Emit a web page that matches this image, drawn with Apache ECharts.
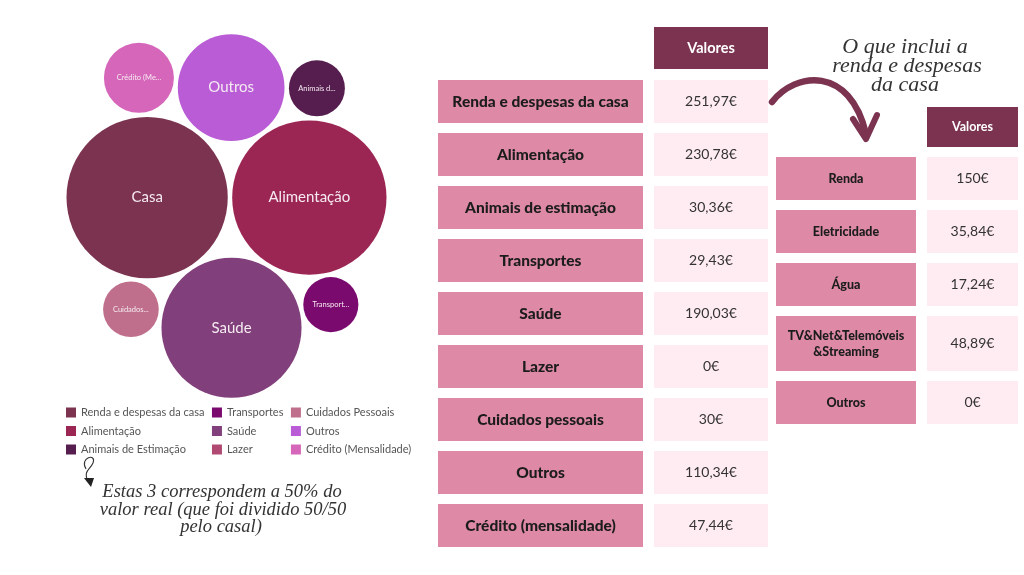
<!DOCTYPE html>
<html>
<head>
<meta charset="utf-8">
<script src="https://cdn.jsdelivr.net/npm/echarts@6/dist/echarts.min.js"></script>
<style>
html,body{margin:0;padding:0;background:#fff;}
#c{width:1024px;height:575px;}
</style>
</head>
<body>
<div id="c"></div>
<script>
// ---------------- DATA ----------------
const categories = ['Renda e despesas da casa','Alimentação','Animais de Estimação','Transportes','Saúde','Lazer','Cuidados Pessoais','Outros','Crédito (Mensalidade)'];
const bubbleLabels = ['Casa','Alimentação','Animais de Estimação','Transportes','Saúde','Lazer','Cuidados Pessoais','Outros','Crédito (Mensalidade)'];
const values = [251.97, 230.78, 30.36, 29.43, 190.03, 0, 30, 110.34, 47.44];
const tableLabels = ['Renda e despesas da casa','Alimentação','Animais de estimação','Transportes','Saúde','Lazer','Cuidados pessoais','Outros','Crédito (mensalidade)'];
const houseLabels = ['Renda','Eletricidade','Água','TV&Net&Telemóveis\n&Streaming','Outros'];
const houseValues = [150, 35.84, 17.24, 48.89, 0];
const headerText = 'Valores';

// ---------------- STYLE / LAYOUT ----------------
const colors = ['#7B3350','#9C2653','#561D4F','#7B0A6F','#813F7B','#B14A73','#BF6F8B','#B95CD6','#D566B9'];
const K = 5.08, PAD = 2.2;
// packing: [circle, tangent to a, tangent to b] (circle 0 at origin, circle 1 to its right)
const packRules = [[4,0,1],[7,1,0],[8,7,0],[2,1,7],[6,0,4],[3,4,1]];
const fmt = v => (Number.isInteger(v) ? String(v) : v.toFixed(2).replace('.', ',')) + '€';

const rad = values.map(v => K * Math.sqrt(v));
const R = i => rad[i] + PAD;
const pos = {};
pos[0] = [0, 0];
pos[1] = [R(0) + R(1), 0];
function tangent(a, b, c) {
  const A = pos[a], B = pos[b];
  const dx = B[0]-A[0], dy = B[1]-A[1];
  const d = Math.hypot(dx, dy), ux = dx/d, uy = dy/d;
  const da = R(a)+R(c), db = R(b)+R(c);
  const x = (da*da - db*db + d*d) / (2*d);
  const h = Math.sqrt(Math.max(0, da*da - x*x));
  return [A[0] + x*ux - h*uy, A[1] + x*uy + h*ux];
}
packRules.forEach(([c,a,b]) => { pos[c] = tangent(a,b,c); });
let minX=Infinity,maxX=-Infinity,minY=Infinity,maxY=-Infinity;
Object.keys(pos).forEach(k => {
  const i = +k, p = pos[i];
  minX = Math.min(minX, p[0]-rad[i]); maxX = Math.max(maxX, p[0]+rad[i]);
  minY = Math.min(minY, p[1]-rad[i]); maxY = Math.max(maxY, p[1]+rad[i]);
});
const G1 = {left: 40, top: 20, width: 373, height: 392};
const offX = G1.width/2 - (minX+maxX)/2, offY = G1.height/2 - (minY+maxY)/2;

const bubbleSeries = categories.map((name, i) => ({
  type: 'scatter', name: name, xAxisIndex: 0, yAxisIndex: 0,
  data: values[i] > 0 ? [[pos[i][0]+offX, pos[i][1]+offY, values[i]]] : [],
  symbolSize: val => 2 * K * Math.sqrt(val[2]),
  itemStyle: {color: colors[i], opacity: 1},
  emphasis: {disabled: true},
  label: {
    show: true, position: 'inside', formatter: bubbleLabels[i],
    color: '#f6eaf1', fontFamily: 'Lato',
    fontSize: rad[i] > 45 ? 15 : 7.5,
    width: rad[i] > 45 ? null : rad[i]*1.4,
    overflow: 'truncate', ellipsis: '...'
  }
}));

// table 1
const T1 = {left: 438, top: 27, width: 330, height: 530, labelW: 205, valX: 216, valW: 114};
const t1Rows = [headerText].concat(tableLabels);
const table1 = {
  type: 'custom', xAxisIndex: 1, yAxisIndex: 1, silent: true,
  data: t1Rows.map((_, i) => [0, i]),
  renderItem: (params, api) => {
    const i = api.value(1);
    const c = api.coord([0, i]);
    const band = api.size([0, 1])[1];
    const top = c[1] - band/2, h = band - 10;
    const lw = api.size([T1.labelW, 0])[0];
    const vx = api.coord([T1.valX, i])[0];
    const vw = api.size([T1.valW, 0])[0];
    const ch = [];
    if (i === 0) {
      ch.push({type:'rect', shape:{x:vx, y:top, width:vw, height:h-1}, style:{fill:'#7B3350'}});
      ch.push({type:'text', style:{x:vx+vw/2, y:top+(h-1)/2, text:headerText, align:'center', verticalAlign:'middle', fill:'#fff', font:'bold 14.5px Lato'}});
    } else {
      ch.push({type:'rect', shape:{x:c[0], y:top, width:lw, height:h}, style:{fill:'#DE8AA6'}});
      ch.push({type:'text', style:{x:c[0]+lw/2, y:top+h/2, text:tableLabels[i-1], align:'center', verticalAlign:'middle', fill:'#1c1c1c', font:'900 15.5px Lato'}});
      ch.push({type:'rect', shape:{x:vx, y:top, width:vw, height:h}, style:{fill:'#FFEBF2'}});
      ch.push({type:'text', style:{x:vx+vw/2, y:top+h/2, text:fmt(values[i-1]), align:'center', verticalAlign:'middle', fill:'#333', font:'14px Lato'}});
    }
    return {type:'group', children: ch};
  }
};

// table 2
const T2 = {left: 776, top: 107, width: 242, height: 320, labelW: 140, valX: 151, valW: 91, headH: 40, rowH: 43, twoLineH: 55, gap: 10};
const t2Layout = [];
{
  let y = 0;
  t2Layout.push([0, y, T2.headH, -1]);
  y += T2.headH + T2.gap;
  houseLabels.forEach((l, i) => {
    const h = l.indexOf('\n') >= 0 ? T2.twoLineH : T2.rowH;
    t2Layout.push([0, y, h, i]);
    y += h + T2.gap;
  });
}
const table2 = {
  type: 'custom', xAxisIndex: 2, yAxisIndex: 2, silent: true,
  data: t2Layout,
  renderItem: (params, api) => {
    const y0 = api.value(1), hh = api.value(2), idx = api.value(3);
    const c = api.coord([0, y0]);
    const h = api.size([0, hh])[1];
    const lw = api.size([T2.labelW, 0])[0];
    const vx = api.coord([T2.valX, y0])[0];
    const vw = api.size([T2.valW, 0])[0];
    const ch = [];
    if (idx < 0) {
      ch.push({type:'rect', shape:{x:vx, y:c[1], width:vw, height:h}, style:{fill:'#7B3350'}});
      ch.push({type:'text', style:{x:vx+vw/2, y:c[1]+h/2, text:headerText, align:'center', verticalAlign:'middle', fill:'#fff', font:'bold 12.5px Lato'}});
    } else {
      ch.push({type:'rect', shape:{x:c[0], y:c[1], width:lw, height:h}, style:{fill:'#DE8AA6'}});
      ch.push({type:'text', style:{x:c[0]+lw/2, y:c[1]+h/2, text:houseLabels[idx], align:'center', verticalAlign:'middle', fill:'#1c1c1c', font:'900 12.5px Lato', lineHeight:16}});
      ch.push({type:'rect', shape:{x:vx, y:c[1], width:vw, height:h}, style:{fill:'#FFEBF2'}});
      ch.push({type:'text', style:{x:vx+vw/2, y:c[1]+h/2, text:fmt(houseValues[idx]), align:'center', verticalAlign:'middle', fill:'#333', font:'14px Lato'}});
    }
    return {type:'group', children: ch};
  }
};

const scriptFont = 'italic 18.5px "Liberation Serif"';
const scriptFont2 = 'italic 22px "Liberation Serif"';
const option = {
  backgroundColor: '#fff',
  animation: false,
  grid: [
    {left: G1.left, top: G1.top, width: G1.width, height: G1.height},
    {left: T1.left, top: T1.top, width: T1.width, height: T1.height},
    {left: T2.left, top: T2.top, width: T2.width, height: T2.height}
  ],
  xAxis: [
    {type:'value', gridIndex:0, min:0, max:G1.width, show:false},
    {type:'value', gridIndex:1, min:0, max:T1.width, show:false},
    {type:'value', gridIndex:2, min:0, max:T2.width, show:false}
  ],
  yAxis: [
    {type:'value', gridIndex:0, min:0, max:G1.height, inverse:true, show:false},
    {type:'category', gridIndex:1, data:t1Rows, inverse:true, show:false},
    {type:'value', gridIndex:2, min:0, max:T2.height, inverse:true, show:false}
  ],
  legend: {
    data: categories, left: 66, top: 407, orient: 'vertical', height: 52, padding: 0,
    itemWidth: 10, itemHeight: 10, itemGap: 7.5, icon: 'rect', selectedMode: false,
    textStyle: {fontSize: 11, color: '#555', fontFamily: 'Lato', lineHeight: 10}
  },
  series: bubbleSeries.concat([table1, table2]),
  graphic: [
    {type:'bezierCurve', shape:{x1:772, y1:102, cpx1:795, cpy1:72, cpx2:850, cpy2:65, x2:866, y2:134}, style:{stroke:'#7B3350', lineWidth:6.5, lineCap:'round', fill:null}},
    {type:'polyline', shape:{points:[[853,119],[866,139],[877,115]]}, style:{stroke:'#7B3350', lineWidth:6, lineCap:'round', lineJoin:'round', fill:null}},
    {type:'bezierCurve', shape:{x1:86, y1:469, cpx1:79, cpy1:457, cpx2:97, cpy2:453, x2:93, y2:463}, style:{stroke:'#333', lineWidth:1.1, fill:null}},
    {type:'bezierCurve', shape:{x1:93, y1:463, cpx1:90, cpy1:470, cpx2:83, cpy2:470, x2:88, y2:482}, style:{stroke:'#333', lineWidth:1.1, fill:null}},
    {type:'polygon', shape:{points:[[84,478],[94,478],[91,487]]}, style:{fill:'#222'}},
    {type:'text', style:{x:222, y:492, text:'Estas 3 correspondem a 50% do', align:'center', verticalAlign:'middle', font:scriptFont, fill:'#333'}},
    {type:'text', style:{x:223, y:510, text:'valor real (que foi dividido 50/50', align:'center', verticalAlign:'middle', font:scriptFont, fill:'#333'}},
    {type:'text', style:{x:221, y:527, text:'pelo casal)', align:'center', verticalAlign:'middle', font:scriptFont, fill:'#333'}},
    {type:'text', style:{x:905, y:47, text:'O que inclui a', align:'center', verticalAlign:'middle', font:scriptFont2, fill:'#333'}},
    {type:'text', style:{x:907, y:66, text:'renda e despesas', align:'center', verticalAlign:'middle', font:scriptFont2, fill:'#333'}},
    {type:'text', style:{x:905, y:85, text:'da casa', align:'center', verticalAlign:'middle', font:scriptFont2, fill:'#333'}}
  ]
};
const chart = echarts.init(document.getElementById('c'), null, {renderer:'canvas'});
chart.setOption(option);
</script>
</body>
</html>
